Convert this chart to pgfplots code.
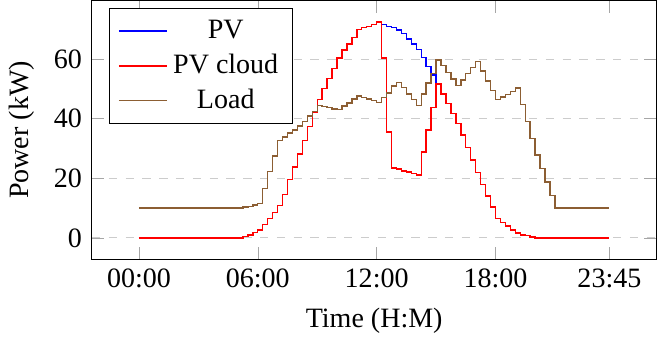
\documentclass[border=0pt]{standalone}
\usepackage{fontspec}
\setmainfont{Liberation Serif}
\usepackage{pgfplots}
\pgfplotsset{compat=1.18}
\usepackage{pgfplotstable}
\definecolor{loadbrown}{rgb}{0.55,0.37,0.20}
\pgfplotstableread{
t pv pvc load
0 0 0 10
1 0 0 10
2 0 0 10
3 0 0 10
4 0 0 10
5 0 0 10
6 0 0 10
7 0 0 10
8 0 0 10
9 0 0 10
10 0 0 10
11 0 0 10
12 0 0 10
13 0 0 10
14 0 0 10
15 0 0 10
16 0 0 10
17 0 0 10
18 0 0 10
19 0 0 10
20 0 0 10
21 0.4 0.4 10.3
22 1.0 1.0 10.6
23 1.8 1.8 11.0
24 2.7 2.7 11.5
25 4.5 4.5 16.6
26 6.5 6.5 22.2
27 8.5 8.5 27.5
28 10.8 10.8 32.6
29 14.5 14.5 33.8
30 19.5 19.5 35.2
31 23.8 23.8 36.2
32 28.2 28.2 37.5
33 32.7 32.7 39.1
34 37.3 37.3 40.9
35 42.3 42.3 42.5
36 46.4 46.4 44.4
37 50.1 50.1 44.0
38 53.5 53.5 43.7
39 56.9 56.9 43.3
40 60.3 60.3 43.0
41 63.0 63.0 44.2
42 65.1 65.1 45.3
43 67.3 67.3 46.6
44 69.9 69.9 47.6
45 70.5 70.5 47.2
46 71.0 71.0 46.6
47 71.6 71.6 46.1
48 72.4 72.4 45.5
49 71.6 60.4 47.2
50 71.0 35.5 48.6
51 70.5 23.5 50.9
52 69.8 23.1 52.2
53 68.5 22.5 50.5
54 66.8 22.1 48.3
55 65.1 21.6 46.4
56 63.2 21.1 44.4
57 60.5 28.8 48.3
58 57.5 36.2 52.0
59 54.7 43.8 55.2
60 51.6 51.6 59.7
61 48.3 48.3 57.8
62 45.1 45.1 55.5
63 41.7 41.7 53.3
64 38.4 38.4 51.2
65 34.5 34.5 53.0
66 30.3 30.3 55.2
67 26.1 26.1 57.1
68 22.0 22.0 59.2
69 18.0 18.0 56.0
70 14.1 14.1 52.6
71 10.3 10.3 49.4
72 6.5 6.5 46.4
73 5.1 5.1 47.3
74 4.0 4.0 48.2
75 2.7 2.7 49.2
76 1.6 1.6 50.3
77 1.0 1.0 44.7
78 0.7 0.7 39.0
79 0.3 0.3 33.4
80 0 0 27.8
81 0 0 23.3
82 0 0 18.8
83 0 0 14.3
84 0 0 10
85 0 0 10
86 0 0 10
87 0 0 10
88 0 0 10
89 0 0 10
90 0 0 10
91 0 0 10
92 0 0 10
93 0 0 10
94 0 0 10
95 0 0 10
}\data
\begin{document}
\begin{tikzpicture}
\begin{axis}[
  scale only axis,
  width=201.5pt, height=92.4pt,
  xmin=-9.5, xmax=104.5,
  ymin=-7.24, ymax=79.64,
  xtick={0,24,48,72,95},
  xticklabels={00:00,06:00,12:00,18:00,23:45},
  ytick={0,20,40,60},
  /pgf/number format/assume math mode=true,
  ymajorgrids,
  major grid style={dashed, gray!40},
  major tick style={gray!70},
  xlabel={Time (H:M)},
  ylabel={Power (kW)},
  legend pos=north west,
  legend cell align=center,
  legend image code/.code={\draw[#1, sharp plot, line width=0.7pt] plot coordinates {(0cm,0cm) (0.6cm,0cm)};},
  every axis plot/.append style={line width=0.5pt},
]
\addplot[draw=blue, const plot, mark=none] table[x=t, y=pv] {\data};
\addplot[draw=red, const plot, mark=none] table[x=t, y=pvc] {\data};
\addplot[draw=loadbrown, const plot, mark=none] table[x=t, y=load] {\data};
\legend{PV, PV cloud, Load}
\end{axis}
\end{tikzpicture}
\end{document}
